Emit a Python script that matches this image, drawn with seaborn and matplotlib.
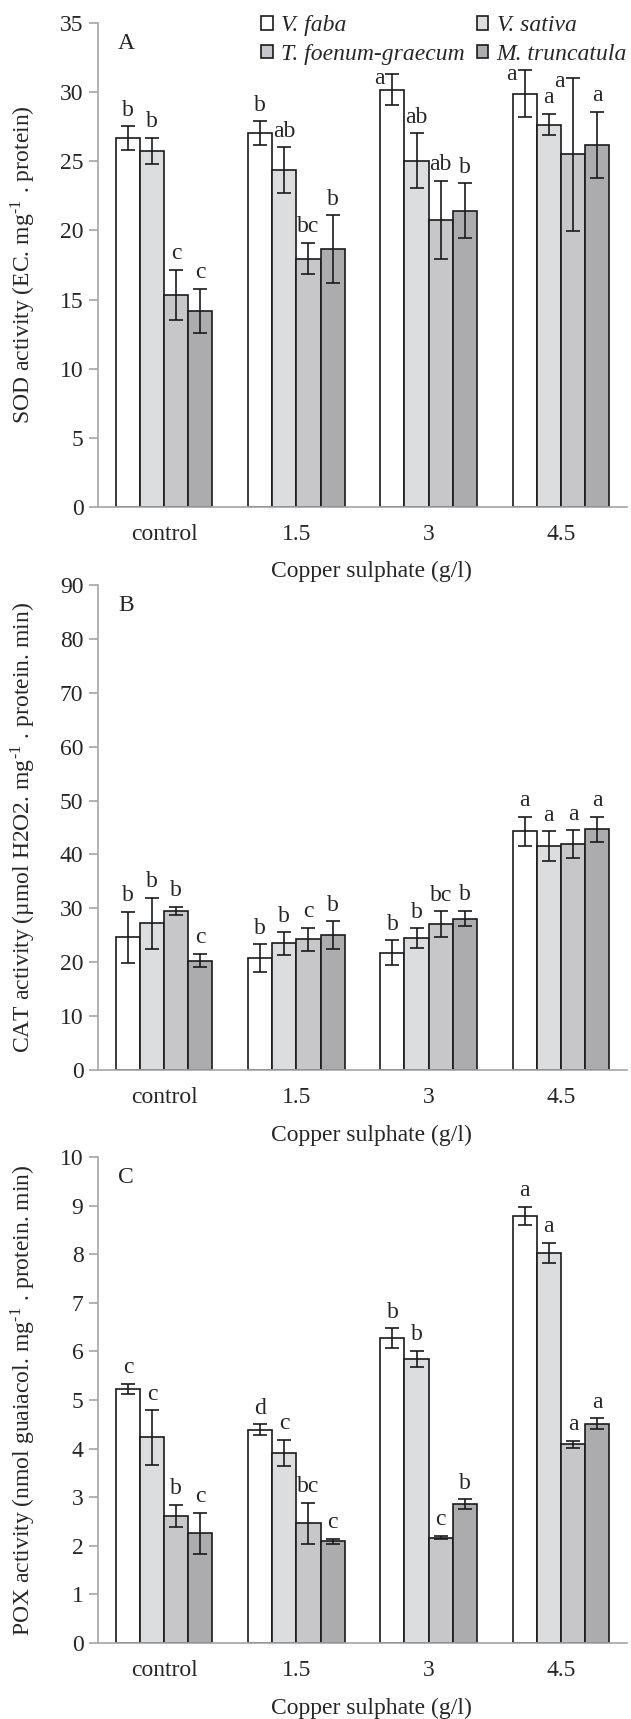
import numpy as np
import pandas as pd
import matplotlib
matplotlib.use("Agg")
import matplotlib.pyplot as plt
import seaborn as sns
from matplotlib.patches import Patch

# categories
doses = ["control", "1.5", "3", "4.5"]
species = ["V. faba", "V. sativa", "T. foenum-graecum", "M. truncatula"]
colors = ["#FFFFFF", "#DCDDDF", "#C6C7CA", "#ABACAF"]

# SOD (panel A), one list per species over the doses
sod_faba = [26.67, 27.05, 30.17, 29.88]
sod_sativa = [25.77, 24.37, 25.05, 27.66]
sod_foenum = [15.34, 17.97, 20.77, 25.5]
sod_trunc = [14.2, 18.65, 21.43, 26.21]
sod_err_faba = [0.85, 0.85, 1.12, 1.71]
sod_err_sativa = [0.94, 1.63, 1.98, 0.78]
sod_err_foenum = [1.8, 1.15, 2.84, 5.55]
sod_err_trunc = [1.6, 2.44, 1.98, 2.39]
sod_let_faba = ["b", "b", "a", "a"]
sod_let_sativa = ["b", "ab", "ab", "a"]
sod_let_foenum = ["c", "bc", "ab", "a"]
sod_let_trunc = ["c", "b", "b", "a"]

# CAT (panel B)
cat_faba = [24.6, 20.7, 21.77, 44.26]
cat_sativa = [27.2, 23.5, 24.43, 41.54]
cat_foenum = [29.56, 24.24, 27.09, 41.85]
cat_trunc = [20.28, 24.98, 28.08, 44.7]
cat_err_faba = [4.8, 2.6, 2.3, 2.78]
cat_err_sativa = [4.8, 2.07, 1.86, 2.78]
cat_err_foenum = [0.77, 2.16, 2.4, 2.6]
cat_err_trunc = [1.24, 2.6, 1.45, 2.3]
cat_let_faba = ["b", "b", "b", "a"]
cat_let_sativa = ["b", "b", "b", "a"]
cat_let_foenum = ["b", "c", "bc", "a"]
cat_let_trunc = ["c", "b", "b", "a"]

# POX (panel C)
pox_faba = [5.23, 4.39, 6.28, 8.79]
pox_sativa = [4.23, 3.91, 5.84, 8.02]
pox_foenum = [2.61, 2.46, 2.17, 4.09]
pox_trunc = [2.26, 2.09, 2.86, 4.51]
pox_err_faba = [0.1, 0.11, 0.2, 0.19]
pox_err_sativa = [0.56, 0.27, 0.17, 0.21]
pox_err_foenum = [0.23, 0.43, 0.04, 0.07]
pox_err_trunc = [0.42, 0.06, 0.1, 0.11]
pox_let_faba = ["c", "d", "b", "a"]
pox_let_sativa = ["c", "c", "b", "a"]
pox_let_foenum = ["b", "bc", "c", "a"]
pox_let_trunc = ["c", "c", "b", "a"]

sns.set_style("white")
plt.rcParams["font.family"] = ["Liberation Serif", "DejaVu Serif"]
plt.rcParams["mathtext.fontset"] = "stix"

FS = 17
GREY = "#A6A6A6"
INK = "#1a1a1a"
SUP = r"mg$^{\mathregular{\text{-}1}}$"


def make_df(means, errs, letters):
    rows = []
    for sp, m, e, l in zip(species, means, errs, letters):
        for d, mv, ev, lv in zip(doses, m, e, l):
            rows.append({"dose": d, "species": sp, "value": mv, "err": ev, "letter": lv})
    return pd.DataFrame(rows)


def draw_panel(ax, df, ymax, ystep, ylabel, letter, crowd=None):
    sns.barplot(data=df, x="dose", y="value", hue="species",
                order=doses, hue_order=species, palette=colors,
                width=0.73, errorbar=None, edgecolor=INK, linewidth=1.2,
                legend=False, ax=ax)

    for cont, sp in zip(ax.containers, species):
        bars = sorted(cont.patches, key=lambda b: b.get_x())
        sub = df[df["species"] == sp].set_index("dose").loc[doses]
        xs = [b.get_x() + b.get_width() / 2 for b in bars]
        ax.errorbar(xs, sub["value"], yerr=sub["err"], fmt="none",
                    ecolor=INK, elinewidth=1.2, capsize=5, capthick=1.2)
        for x, v, e, t in zip(xs, sub["value"], sub["err"], sub["letter"]):
            if crowd is not None and v + e > crowd:
                # too close to the legend: letter sits beside the cap
                ax.annotate(t, (x, v + e), xytext=(-9.5, -3), textcoords="offset points",
                            ha="center", va="center", fontsize=FS)
            else:
                ax.annotate(t, (x, v + e), xytext=(0, 4), textcoords="offset points",
                            ha="center", va="bottom", fontsize=FS)

    ax.set_xlim(-0.5, 3.5)
    ax.set_ylim(0, ymax)
    ax.set_yticks(np.arange(0, ymax + ystep / 2, ystep))
    ax.set_xticks([-0.5, 0.5, 1.5, 2.5, 3.5], labels=[""] * 5)
    ax.set_xticks(range(4), labels=doses, minor=True)
    ax.tick_params(axis="x", which="major", direction="out", length=9,
                   width=1.2, color=GREY)
    ax.tick_params(axis="x", which="minor", length=0, pad=12, labelsize=FS)
    ax.tick_params(axis="y", direction="out", length=6.5, width=1.2,
                   color=GREY, pad=4, labelsize=FS, left=True)

    sns.despine(ax=ax)
    for s in ["left", "bottom"]:
        ax.spines[s].set_color(GREY)
        ax.spines[s].set_linewidth(1.2)

    ax.set_xlabel("Copper sulphate (g/l)", fontsize=FS, va="center")
    ax.xaxis.set_label_coords(0.516, -0.134)
    ax.set_ylabel(ylabel, fontsize=FS, va="center")
    ax.yaxis.set_label_coords(-0.142, 0.5)
    ax.text(0.038, 0.958, letter, transform=ax.transAxes, ha="left",
            va="center", fontsize=FS)


fig = plt.figure(figsize=(6.31, 17.19), dpi=100)
left, width = 98 / 631, 529 / 631
ax_a = fig.add_axes([left, 1 - 507 / 1719, width, 484 / 1719])
ax_b = fig.add_axes([left, 1 - 1070 / 1719, width, 485 / 1719])
ax_c = fig.add_axes([left, 1 - 1643 / 1719, width, 486 / 1719])

draw_panel(ax_a,
           make_df([sod_faba, sod_sativa, sod_foenum, sod_trunc],
                   [sod_err_faba, sod_err_sativa, sod_err_foenum, sod_err_trunc],
                   [sod_let_faba, sod_let_sativa, sod_let_foenum, sod_let_trunc]),
           35, 5, "SOD activity (EC. " + SUP + " . protein)", "A", crowd=30.5)
draw_panel(ax_b,
           make_df([cat_faba, cat_sativa, cat_foenum, cat_trunc],
                   [cat_err_faba, cat_err_sativa, cat_err_foenum, cat_err_trunc],
                   [cat_let_faba, cat_let_sativa, cat_let_foenum, cat_let_trunc]),
           90, 10, "CAT activity (µmol H2O2. " + SUP + " . protein. min)", "B")
draw_panel(ax_c,
           make_df([pox_faba, pox_sativa, pox_foenum, pox_trunc],
                   [pox_err_faba, pox_err_sativa, pox_err_foenum, pox_err_trunc],
                   [pox_let_faba, pox_let_sativa, pox_let_foenum, pox_let_trunc]),
           10, 1, "POX activity (nmol guaiacol. " + SUP + " . protein. min)", "C")

# legend only on panel A, filled row by row like the original
handles = [Patch(facecolor=c, edgecolor=INK, linewidth=1.2) for c in colors]
order = [0, 2, 1, 3]
ax_a.legend([handles[i] for i in order], [species[i] for i in order],
            loc="upper right", bbox_to_anchor=(1.0, 1.016),
            ncol=2, frameon=False, borderpad=0, borderaxespad=0,
            handlelength=0.5, handleheight=0.5, handletextpad=0.35,
            columnspacing=0.5, labelspacing=0.33,
            prop={"family": "Liberation Serif", "style": "italic", "size": FS})

plt.savefig("out.png", dpi=100)
